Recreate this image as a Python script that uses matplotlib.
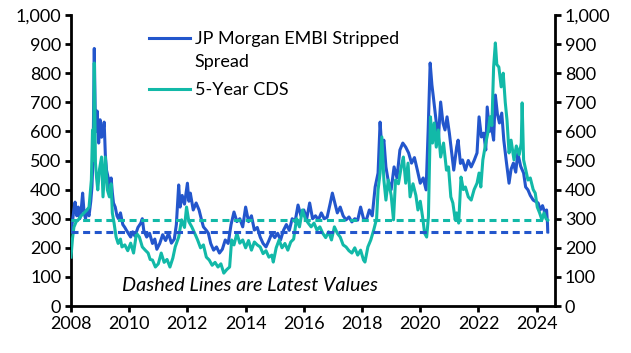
import matplotlib
matplotlib.use("Agg")
import matplotlib.pyplot as plt
import numpy as np

plt.rcParams['font.family'] = ['Lato', 'DejaVu Sans']

# JP Morgan EMBI Stripped Spread (bp)
embi_dates = [2008.00, 2008.05, 2008.10, 2008.14, 2008.20, 2008.25, 2008.30, 2008.35, 2008.40, 2008.45,
              2008.50, 2008.55, 2008.62, 2008.68, 2008.72, 2008.76, 2008.80, 2008.83, 2008.86, 2008.90,
              2008.95, 2009.00, 2009.05, 2009.10, 2009.14, 2009.18, 2009.22, 2009.28, 2009.33, 2009.38,
              2009.42, 2009.46, 2009.52, 2009.58, 2009.63, 2009.70, 2009.78, 2009.85, 2009.90, 2009.97,
              2010.05, 2010.12, 2010.20, 2010.30, 2010.40, 2010.45, 2010.50, 2010.60, 2010.70, 2010.80,
              2010.88, 2010.95, 2011.05, 2011.15, 2011.25, 2011.35, 2011.45, 2011.55, 2011.62, 2011.70,
              2011.75, 2011.82, 2011.90, 2012.00, 2012.05, 2012.10, 2012.20, 2012.30, 2012.40, 2012.50,
              2012.55, 2012.65, 2012.72, 2012.80, 2012.90, 2013.00, 2013.10, 2013.20, 2013.30, 2013.40,
              2013.50, 2013.60, 2013.70, 2013.80, 2013.90, 2014.00, 2014.10, 2014.20, 2014.30, 2014.40,
              2014.50, 2014.60, 2014.70, 2014.80, 2014.90, 2015.00, 2015.10, 2015.20, 2015.30, 2015.40,
              2015.50, 2015.60, 2015.70, 2015.80, 2015.90, 2016.00, 2016.10, 2016.20, 2016.30, 2016.40,
              2016.50, 2016.60, 2016.70, 2016.80, 2016.90, 2016.98, 2017.05, 2017.15, 2017.25, 2017.35,
              2017.45, 2017.55, 2017.65, 2017.75, 2017.85, 2017.95, 2018.05, 2018.15, 2018.25, 2018.35,
              2018.45, 2018.55, 2018.62, 2018.68, 2018.75, 2018.82, 2018.90, 2019.00, 2019.10, 2019.20,
              2019.30, 2019.40, 2019.50, 2019.60, 2019.70, 2019.80, 2019.90, 2020.00, 2020.10, 2020.20,
              2020.27, 2020.34, 2020.40, 2020.45, 2020.55, 2020.62, 2020.70, 2020.78, 2020.85, 2020.92,
              2021.00, 2021.08, 2021.15, 2021.25, 2021.30, 2021.38, 2021.45, 2021.55, 2021.65, 2021.75,
              2021.85, 2021.95, 2022.02, 2022.10, 2022.18, 2022.25, 2022.30, 2022.38, 2022.45, 2022.52,
              2022.58, 2022.65, 2022.72, 2022.80, 2022.87, 2022.95, 2023.05, 2023.12, 2023.20, 2023.28,
              2023.35, 2023.45, 2023.55, 2023.62, 2023.70, 2023.78, 2023.88, 2023.95, 2024.05, 2024.12,
              2024.20, 2024.28, 2024.34, 2024.37, 2024.38]
embi_values = [255, 290, 330, 357, 310, 340, 300, 330, 388, 320,
               300, 330, 310, 360, 409, 520, 885, 680, 600, 670,
               560, 640, 580, 600, 632, 520, 467, 440, 400, 440,
               390, 354, 340, 310, 300, 320, 280, 270, 261, 250,
               237, 255, 240, 270, 285, 300, 260, 237, 250, 215,
               230, 195, 215, 245, 225, 250, 216, 230, 280, 416,
               340, 380, 350, 422, 360, 388, 330, 354, 330, 290,
               272, 260, 250, 215, 192, 203, 182, 195, 227, 215,
               280, 323, 290, 300, 272, 340, 290, 310, 261, 270,
               237, 215, 203, 225, 250, 235, 250, 227, 260, 280,
               260, 300, 290, 347, 310, 330, 300, 354, 300, 310,
               296, 320, 300, 305, 350, 388, 360, 320, 340, 310,
               296, 306, 289, 300, 295, 340, 300, 296, 330, 310,
               409, 457, 632, 540, 570, 478, 430, 400, 478, 440,
               536, 560, 546, 526, 491, 510, 467, 422, 440, 399,
               600, 835, 760, 718, 629, 570, 701, 629, 605, 650,
               594, 526, 467, 546, 570, 490, 502, 467, 500, 478,
               500, 526, 650, 581, 594, 536, 684, 600, 615, 570,
               725, 660, 629, 663, 570, 502, 422, 470, 491, 460,
               526, 480, 457, 409, 399, 380, 364, 360, 354, 330,
               345, 320, 330, 285, 255]

# 5-Year CDS (bp)
cds_dates = [2008.00, 2008.05, 2008.10, 2008.18, 2008.25, 2008.35, 2008.45, 2008.55, 2008.62, 2008.70,
             2008.74, 2008.78, 2008.80, 2008.84, 2008.88, 2008.92, 2008.98, 2009.05, 2009.10, 2009.18,
             2009.25, 2009.32, 2009.38, 2009.42, 2009.48, 2009.55, 2009.62, 2009.70, 2009.75, 2009.85,
             2009.95, 2010.05, 2010.15, 2010.25, 2010.35, 2010.45, 2010.55, 2010.65, 2010.72, 2010.80,
             2010.90, 2011.00, 2011.10, 2011.20, 2011.30, 2011.40, 2011.50, 2011.58, 2011.70, 2011.80,
             2011.90, 2011.97, 2012.05, 2012.15, 2012.25, 2012.35, 2012.45, 2012.55, 2012.65, 2012.75,
             2012.85, 2012.95, 2013.05, 2013.15, 2013.25, 2013.35, 2013.45, 2013.52, 2013.60, 2013.70,
             2013.80, 2013.90, 2014.00, 2014.10, 2014.20, 2014.30, 2014.40, 2014.50, 2014.60, 2014.70,
             2014.80, 2014.90, 2014.95, 2015.05, 2015.15, 2015.25, 2015.35, 2015.45, 2015.55, 2015.65,
             2015.75, 2015.85, 2015.95, 2016.05, 2016.15, 2016.25, 2016.35, 2016.45, 2016.55, 2016.65,
             2016.75, 2016.85, 2016.95, 2017.05, 2017.15, 2017.25, 2017.35, 2017.45, 2017.55, 2017.65,
             2017.75, 2017.85, 2017.95, 2018.05, 2018.10, 2018.20, 2018.30, 2018.40, 2018.50, 2018.55,
             2018.62, 2018.68, 2018.75, 2018.82, 2018.90, 2019.00, 2019.08, 2019.15, 2019.25, 2019.35,
             2019.42, 2019.50, 2019.58, 2019.65, 2019.75, 2019.85, 2019.92, 2020.00, 2020.08, 2020.15,
             2020.22, 2020.28, 2020.35, 2020.42, 2020.48, 2020.55, 2020.62, 2020.70, 2020.80, 2020.90,
             2020.97, 2021.05, 2021.12, 2021.20, 2021.25, 2021.32, 2021.40, 2021.48, 2021.55, 2021.65,
             2021.75, 2021.85, 2021.95, 2022.02, 2022.08, 2022.15, 2022.25, 2022.32, 2022.40, 2022.46,
             2022.52, 2022.58, 2022.63, 2022.70, 2022.78, 2022.85, 2022.92, 2022.98, 2023.05, 2023.12,
             2023.22, 2023.30, 2023.40, 2023.47, 2023.50, 2023.55, 2023.62, 2023.70, 2023.78, 2023.88,
             2023.95, 2024.02, 2024.10, 2024.18, 2024.25, 2024.32, 2024.38]
cds_values = [168, 230, 271, 290, 296, 310, 320, 330, 340, 433,
              605, 500, 835, 491, 440, 399, 470, 512, 375, 512,
              399, 375, 420, 320, 285, 237, 215, 230, 203, 210,
              190, 216, 182, 250, 237, 203, 192, 182, 160, 158,
              134, 145, 182, 150, 160, 134, 165, 203, 237, 296,
              270, 340, 290, 272, 250, 227, 200, 210, 168, 158,
              140, 150, 134, 145, 113, 125, 134, 227, 210, 250,
              216, 227, 200, 225, 192, 220, 210, 203, 180, 190,
              168, 175, 151, 200, 227, 200, 215, 192, 220, 230,
              300, 272, 330, 300, 285, 272, 285, 261, 272, 250,
              235, 255, 227, 272, 250, 237, 210, 203, 190, 182,
              200, 175, 192, 158, 151, 203, 227, 261, 300, 399,
              457, 581, 433, 364, 433, 380, 296, 433, 420, 480,
              512, 422, 491, 375, 420, 380, 330, 360, 306, 250,
              237, 306, 650, 560, 629, 546, 605, 512, 560, 467,
              478, 375, 354, 296, 320, 285, 443, 400, 409, 375,
              364, 400, 422, 457, 409, 502, 560, 594, 650, 620,
              821, 904, 830, 821, 753, 800, 700, 639, 526, 570,
              502, 550, 520, 560, 698, 502, 470, 433, 440, 400,
              388, 340, 320, 296, 320, 300, 295]

latest_embi = 255
latest_cds = 295

legend_labels = ['JP Morgan EMBI Stripped', 'Spread', '5-Year CDS']

blue = '#2356CC'
teal = '#12B9A8'

fig = plt.figure(figsize=(6.31, 3.53), dpi=100)
ax = fig.add_axes([0.1125, 0.1331, 0.7671, 0.8244])

LW = 2.2
ax.plot(embi_dates, embi_values, color=blue, lw=LW, zorder=3)
ax.plot(cds_dates, cds_values, color=teal, lw=LW, zorder=4)
ax.plot([embi_dates[0], embi_dates[-1]], [latest_embi, latest_embi], color=blue, lw=LW,
        dashes=(2.3, 1.5), zorder=5)
ax.plot([cds_dates[0], cds_dates[-1]], [latest_cds, latest_cds], color=teal, lw=LW,
        dashes=(2.3, 1.5), zorder=5)

ax.set_xlim(2008, 2024.63)
ax.set_ylim(0, 1000)
ax.set_xticks(np.arange(2008, 2025, 2))
ax.set_xticklabels([str(y) for y in range(2008, 2025, 2)])
yt = np.arange(0, 1001, 100)
ax.set_yticks(yt)
ax.set_yticklabels([f'{v:,}' for v in yt])

ax.spines['top'].set_visible(False)
for s in ['left', 'right', 'bottom']:
    ax.spines[s].set_linewidth(2)
ax.tick_params(axis='both', which='both', direction='out', length=4, width=2,
               labelsize=13, pad=3)
ax.tick_params(axis='y', left=True, right=True, labelleft=True, labelright=True)

# manual legend (axes fraction coordinates)
tr = ax.transAxes
ax.plot([0.161, 0.246], [0.922, 0.922], color=blue, lw=LW, transform=tr, clip_on=False)
ax.plot([0.161, 0.246], [0.746, 0.746], color=teal, lw=LW, transform=tr, clip_on=False)
ax.text(0.256, 0.918, legend_labels[0], transform=tr, fontsize=13, va='center', ha='left')
ax.text(0.256, 0.840, legend_labels[1], transform=tr, fontsize=13, va='center', ha='left')
ax.text(0.256, 0.742, legend_labels[2], transform=tr, fontsize=13, va='center', ha='left')

ax.text(2014.15, 72, 'Dashed Lines are Latest Values', style='italic', fontsize=14.3,
        ha='center', va='center')

fig.savefig('out.png', dpi=100)
